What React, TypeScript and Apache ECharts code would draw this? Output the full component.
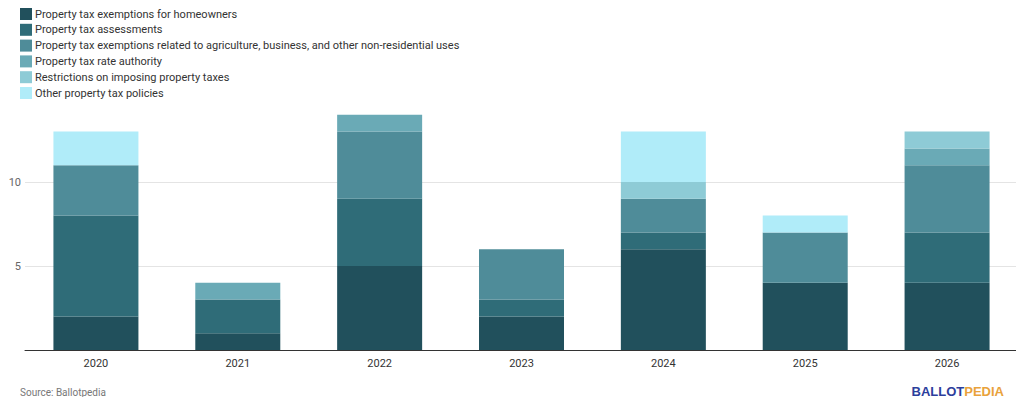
import React, { useEffect, useRef } from 'react';
import * as echarts from 'echarts';

const years = ['2020', '2021', '2022', '2023', '2024', '2025', '2026'];
const seriesNames = [
  'Property tax exemptions for homeowners',
  'Property tax assessments',
  'Property tax exemptions related to agriculture, business, and other non-residential uses',
  'Property tax rate authority',
  'Restrictions on imposing property taxes',
  'Other property tax policies',
];
const colors = ['#21505c', '#2f6c78', '#4f8c99', '#6aaab6', '#8ecbd6', '#b0ecf9'];
const homeowners = [2, 1, 5, 2, 6, 4, 4];
const assessments = [6, 2, 4, 1, 1, 0, 3];
const agriculture = [3, 0, 4, 3, 2, 3, 4];
const rateAuthority = [0, 1, 1, 0, 0, 0, 1];
const restrictions = [0, 0, 0, 0, 1, 0, 1];
const other = [2, 0, 0, 0, 3, 1, 0];
const allValues = [homeowners, assessments, agriculture, rateAuthority, restrictions, other];

const App: React.FC = () => {
  const chartRef = useRef<HTMLDivElement>(null);

  useEffect(() => {
    if (!chartRef.current) return;
    const chart = echarts.init(chartRef.current, null, { renderer: 'svg' });
    const option: any = {
      animation: false,
      textStyle: { fontFamily: 'Roboto' },
      legend: {
        orient: 'vertical',
        left: 20,
        top: 8,
        padding: 0,
        itemWidth: 12,
        itemHeight: 12,
        itemGap: 3.8,
        icon: 'rect',
        selectedMode: false,
        textStyle: { fontSize: 11, color: '#333', lineHeight: 12, padding: [0, 0, 0, -2] },
        data: seriesNames,
      },
      grid: { left: 25, right: 6, top: 98, bottom: 55 },
      xAxis: {
        type: 'category',
        data: years,
        axisTick: { show: false },
        axisLine: { lineStyle: { color: '#333', width: 1 } },
        axisLabel: { color: '#333', fontSize: 11, margin: 8 },
      },
      yAxis: {
        type: 'value',
        min: 0,
        max: 15,
        interval: 5,
        axisLine: { show: false },
        axisTick: { show: false },
        axisLabel: {
          color: '#666',
          fontSize: 11,
          margin: 4,
          formatter: (v: number) => (v === 0 || v === 15 ? '' : String(v)),
        },
        splitLine: { showMaxLine: false, lineStyle: { color: '#e4e4e4' } },
      },
      series: seriesNames.map((name, i) => ({
        name,
        type: 'bar',
        stack: 'total',
        barWidth: 85,
        data: allValues[i],
        itemStyle: { color: colors[i] },
      })),
      graphic: [
        {
          type: 'text',
          left: 20,
          top: 386,
          style: { text: 'Source: Ballotpedia', fontSize: 10, lineHeight: 12, fill: '#777', fontFamily: 'Roboto' },
        },
        {
          type: 'text',
          right: 20,
          top: 385,
          style: {
            text: '{a|BALLOT}{b|PEDIA}',
            fontFamily: 'Roboto',
            rich: {
              a: { fontSize: 13, fontWeight: 'bold', fill: '#2c3e9c', color: '#2c3e9c' },
              b: { fontSize: 13, fontWeight: 'bold', fill: '#e9a23b', color: '#e9a23b' },
            },
          },
        },
      ],
    };
    chart.setOption(option);
    return () => chart.dispose();
  }, []);

  return <div ref={chartRef} style={{ width: 1024, height: 405, margin: -8 }} />;
};

export default App;
